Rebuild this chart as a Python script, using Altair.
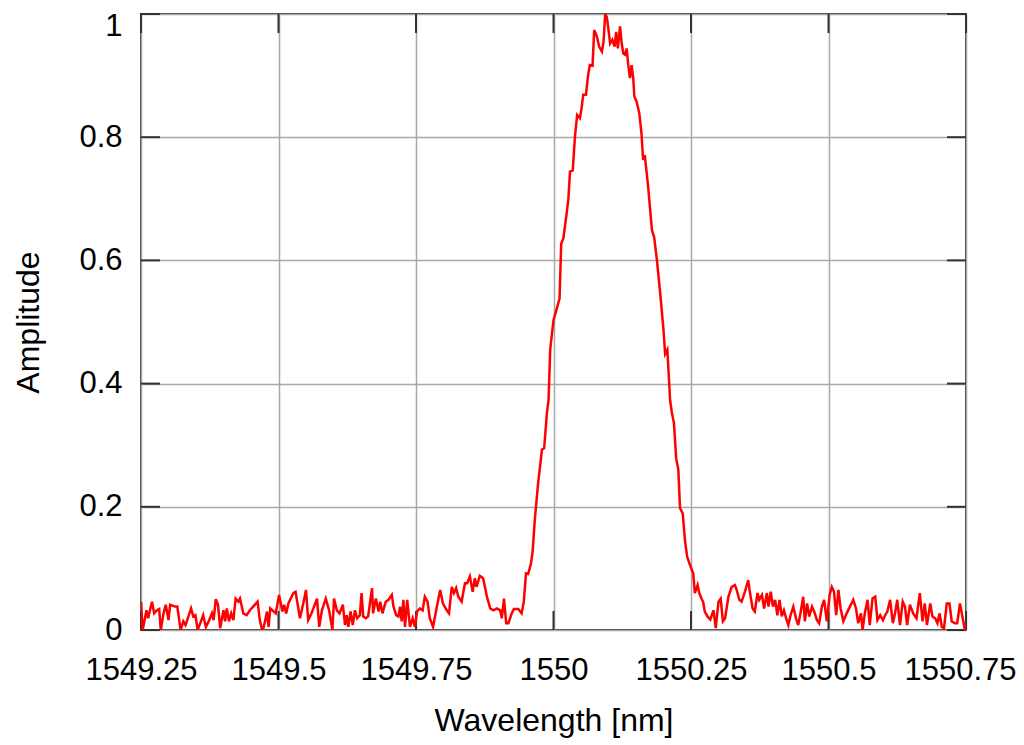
import altair as alt
import pandas as pd

# Amplitude spectrum: (wavelength [nm], amplitude)
base_left = [
    (1549.250, .046), (1549.253, 0), (1549.260, .032), (1549.263, .019), (1549.270, .046),
    (1549.274, .027), (1549.279, .032), (1549.283, .034), (1549.286, 0), (1549.291, .027),
    (1549.295, .041), (1549.300, .016), (1549.303, .041), (1549.312, .038), (1549.316, .038),
    (1549.322, 0), (1549.327, .014), (1549.331, .008), (1549.341, .035), (1549.345, .022),
    (1549.349, .024), (1549.353, 0), (1549.359, .014), (1549.363, .024), (1549.368, .005),
    (1549.373, .014), (1549.379, .027), (1549.382, .016), (1549.386, .050), (1549.390, .041),
    (1549.394, .003), (1549.400, .032), (1549.403, .014), (1549.406, .035), (1549.410, .014),
    (1549.414, .027), (1549.418, .016), (1549.422, .051), (1549.427, .046), (1549.430, .051),
    (1549.436, .027), (1549.442, .024), (1549.448, .032), (1549.454, .038), (1549.462, .046),
    (1549.466, .016), (1549.471, -.003), (1549.476, .016), (1549.479, .030), (1549.482, .005),
    (1549.485, .035), (1549.495, .027), (1549.501, .057), (1549.507, .030), (1549.510, .041),
    (1549.514, .027), (1549.518, .043), (1549.527, .060), (1549.531, .062), (1549.539, .019),
    (1549.545, .043), (1549.550, .065), (1549.554, .016), (1549.560, .027), (1549.570, .051),
    (1549.574, .005), (1549.579, .032), (1549.586, .051), (1549.592, .032), (1549.598, 0),
]

base_mid = [
    (1549.601, .051), (1549.606, .032), (1549.611, .027), (1549.617, .041), (1549.621, .008),
    (1549.624, .024), (1549.627, .005), (1549.631, .030), (1549.635, .008), (1549.639, .032),
    (1549.643, .019), (1549.648, .024), (1549.651, .060), (1549.654, .022), (1549.659, .019),
    (1549.663, .022), (1549.670, .068), (1549.672, .027), (1549.677, .051), (1549.682, .030),
    (1549.685, .046), (1549.689, .027), (1549.695, .046), (1549.700, .049), (1549.706, .057),
    (1549.709, .038), (1549.714, .024), (1549.718, .022), (1549.721, .038), (1549.724, .014),
    (1549.727, .049), (1549.730, .005), (1549.734, .049), (1549.739, .005), (1549.744, .019),
    (1549.748, .005), (1549.752, .030), (1549.757, .035), (1549.762, .032), (1549.766, .054),
    (1549.771, .046), (1549.775, .019), (1549.781, .005), (1549.788, .038), (1549.794, .065),
    (1549.799, .043), (1549.806, .032), (1549.810, .027), (1549.815, .070), (1549.819, .060),
    (1549.823, .068), (1549.827, .054), (1549.833, .046), (1549.839, .076), (1549.843, .076),
    (1549.848, .087), (1549.853, .062), (1549.857, .084), (1549.860, .070), (1549.866, .088),
    (1549.872, .084), (1549.879, .054), (1549.885, .035), (1549.891, .032), (1549.897, .035),
    (1549.903, .032), (1549.906, .019), (1549.910, .051), (1549.914, .011), (1549.918, .011),
    (1549.924, .027), (1549.928, .034), (1549.936, .034), (1549.942, .027), (1549.946, .046),
]

peak = [
    (1549.950, .092), (1549.954, .091), (1549.959, .108), (1549.962, .127), (1549.966, .179),
    (1549.972, .238), (1549.979, .293), (1549.983, .295), (1549.988, .352), (1549.991, .373),
    (1549.994, .455), (1550.000, .503), (1550.005, .519), (1550.011, .538), (1550.014, .627),
    (1550.018, .636), (1550.024, .677), (1550.027, .699), (1550.030, .744), (1550.035, .746),
    (1550.039, .801), (1550.043, .836), (1550.048, .831), (1550.051, .847), (1550.054, .869),
    (1550.059, .869), (1550.063, .901), (1550.066, .917), (1550.071, .916), (1550.074, .974),
    (1550.079, .963), (1550.083, .947), (1550.088, .939), (1550.091, .955), (1550.094, 1.0),
    (1550.097, .995), (1550.100, .974), (1550.103, .952), (1550.107, .958), (1550.111, .947),
    (1550.114, .971), (1550.117, .944), (1550.121, .980), (1550.124, .952), (1550.127, .936),
    (1550.130, .934), (1550.133, .944), (1550.136, .917), (1550.139, .896), (1550.142, .917),
    (1550.145, .896), (1550.147, .866), (1550.151, .858), (1550.156, .839), (1550.160, .806),
    (1550.163, .763), (1550.166, .771), (1550.172, .720), (1550.179, .649), (1550.183, .638),
    (1550.188, .601), (1550.194, .547), (1550.200, .487), (1550.203, .448), (1550.207, .455),
    (1550.212, .373), (1550.215, .354), (1550.219, .336), (1550.223, .279), (1550.227, .260),
    (1550.230, .198), (1550.235, .189), (1550.239, .146), (1550.243, .119), (1550.248, .106),
]

base_right = [
    (1550.254, .092), (1550.257, .060), (1550.262, .073), (1550.265, .060), (1550.270, .049),
    (1550.272, .046), (1550.275, .030), (1550.280, .022), (1550.285, .017), (1550.291, .032),
    (1550.295, .003), (1550.300, .046), (1550.304, .051), (1550.308, .014), (1550.312, .019),
    (1550.318, .054), (1550.324, .070), (1550.330, .073), (1550.333, .065), (1550.338, .049),
    (1550.342, .046), (1550.348, .062), (1550.354, .081), (1550.357, .062), (1550.362, .035),
    (1550.366, .030), (1550.371, .060), (1550.374, .049), (1550.379, .057), (1550.383, .035),
    (1550.388, .060), (1550.391, .038), (1550.395, .062), (1550.399, .038), (1550.403, .049),
    (1550.407, .024), (1550.411, .049), (1550.415, .022), (1550.419, .032), (1550.423, .019),
    (1550.427, .008), (1550.431, .024), (1550.436, .038), (1550.441, .019), (1550.445, .008),
    (1550.449, .027), (1550.454, .054), (1550.457, .014), (1550.461, .043), (1550.465, .022),
    (1550.470, .038), (1550.474, .030), (1550.479, .016), (1550.483, .011), (1550.488, .038),
    (1550.492, .049), (1550.497, .014), (1550.502, .057), (1550.506, .070), (1550.510, .062),
    (1550.514, .024), (1550.518, .065), (1550.522, .035), (1550.527, .014), (1550.533, .027),
    (1550.539, .038), (1550.545, .049), (1550.550, .035), (1550.554, .011), (1550.559, .027),
    (1550.562, 0), (1550.566, .027), (1550.571, .049), (1550.575, .008), (1550.580, .051),
    (1550.585, .054), (1550.589, .016), (1550.594, .024), (1550.599, .016), (1550.603, .024),
    (1550.607, .030), (1550.612, .049), (1550.617, .011), (1550.621, .027), (1550.625, .049),
    (1550.630, .008), (1550.635, .046), (1550.639, .038), (1550.643, .008), (1550.648, .041),
    (1550.654, .027), (1550.660, .019), (1550.666, .060), (1550.671, .014), (1550.675, .043),
    (1550.679, .008), (1550.685, .043), (1550.689, .022), (1550.694, .019), (1550.698, .011),
    (1550.702, .027), (1550.706, .005), (1550.710, .003), (1550.715, .043), (1550.720, .043),
    (1550.724, .014), (1550.730, .011), (1550.734, .011), (1550.739, .043), (1550.744, .019),
    (1550.748, 0), (1550.750, .011),
]

x_ticks = [1549.25, 1549.5, 1549.75, 1550.0, 1550.25, 1550.5, 1550.75]
y_ticks = [0, 0.2, 0.4, 0.6, 0.8, 1.0]

df = pd.DataFrame(base_left + base_mid + peak + base_right, columns=["wavelength", "amplitude"])
df["order"] = range(len(df))
xt = pd.DataFrame({"wavelength": x_ticks})
yt = pd.DataFrame({"amplitude": y_ticks})

W, H = 825, 616
TICK = 19
FONT = "Liberation Sans"
xscale = alt.Scale(domain=[1549.25, 1550.75], nice=False, zero=False)
yscale = alt.Scale(domain=[0, 1], nice=False)

xaxis = alt.Axis(
    values=x_ticks, labelExpr="format(datum.value, '~f')", title="Wavelength [nm]",
    grid=True, gridColor="#a8a8a8", gridWidth=1.5,
    ticks=False, tickSize=0, domain=False,
    labelFont=FONT, labelFontSize=31, labelColor="#000000", labelPadding=25,
    labelOffset=alt.condition("datum.value > 1550.7", alt.value(-6), alt.value(0)),
    labelFlush=False, labelOverlap=False, labelBound=False,
    titleFont=FONT, titleFontSize=32, titleFontWeight="normal", titleColor="#000000",
    titleY=100, titleBaseline="alphabetic",
)
yaxis = alt.Axis(
    values=y_ticks, labelExpr="format(datum.value, '~f')", title="Amplitude",
    grid=True, gridColor="#a8a8a8", gridWidth=1.5,
    ticks=False, tickSize=0, domain=False,
    labelFont=FONT, labelFontSize=31, labelColor="#000000", labelPadding=19,
    labelOffset=alt.condition("datum.value > 0.9", alt.value(12), alt.value(0)),
    labelFlush=False, labelOverlap=False, labelBound=False,
    titleFont=FONT, titleFontSize=32, titleFontWeight="normal", titleColor="#000000",
    titleX=-103, titleBaseline="alphabetic",
)

tick_style = dict(color="#333333", strokeWidth=2)
bottom_ticks = alt.Chart(xt).mark_rule(**tick_style).encode(
    x=alt.X("wavelength:Q", scale=xscale, axis=xaxis), y=alt.value(H), y2=alt.value(H - TICK))
top_ticks = alt.Chart(xt).mark_rule(**tick_style).encode(
    x=alt.X("wavelength:Q", scale=xscale), y=alt.value(0), y2=alt.value(TICK))
left_ticks = alt.Chart(yt).mark_rule(**tick_style).encode(
    y=alt.Y("amplitude:Q", scale=yscale, axis=yaxis), x=alt.value(0), x2=alt.value(TICK))
right_ticks = alt.Chart(yt).mark_rule(**tick_style).encode(
    y=alt.Y("amplitude:Q", scale=yscale), x=alt.value(W), x2=alt.value(W - TICK))

line = alt.Chart(df).mark_line(color="#ff0000", strokeWidth=2.5, clip=True).encode(
    x=alt.X("wavelength:Q", scale=xscale, axis=xaxis),
    y=alt.Y("amplitude:Q", scale=yscale, axis=yaxis),
    order="order:Q",
)

chart = alt.layer(bottom_ticks, top_ticks, left_ticks, right_ticks, line).properties(
    width=W, height=H,
    autosize=alt.AutoSizeParams(type="none"),
    padding={"left": 133, "top": 6, "right": 50, "bottom": 110},
    background="white",
).configure_view(stroke="#3c3c3c", strokeWidth=2)

chart.save("out.html", embed_options={"renderer": "svg", "actions": False})
